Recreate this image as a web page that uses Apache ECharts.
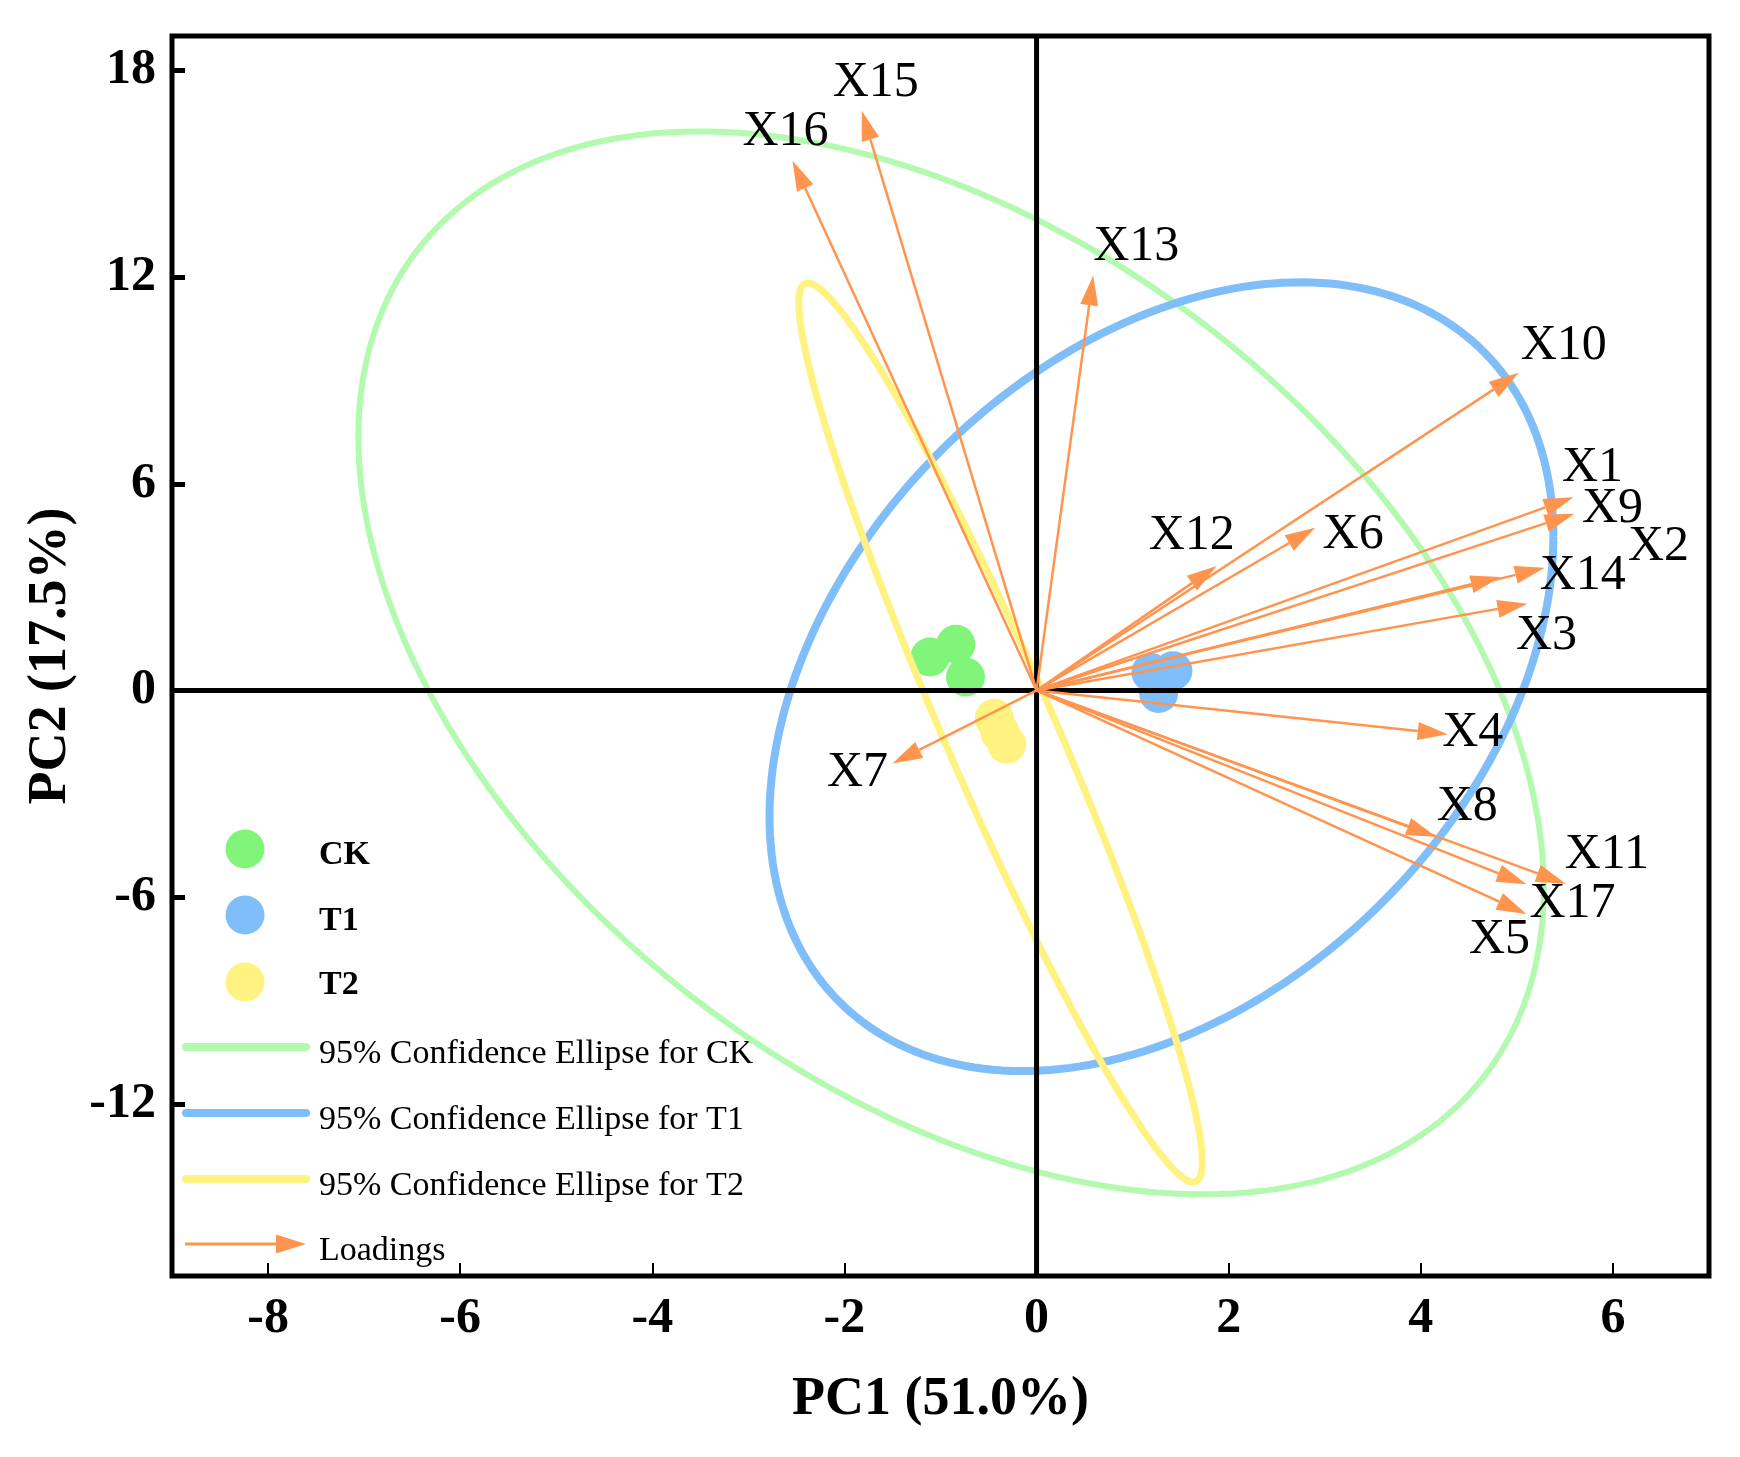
<!DOCTYPE html>
<html>
<head>
<meta charset="utf-8">
<title>PCA biplot</title>
<script src="https://cdn.jsdelivr.net/npm/echarts@6.0.0/dist/echarts.min.js"></script>
<style>
  html, body { margin: 0; padding: 0; background: #fff; }
  #chart { width: 1740px; height: 1457px; }
</style>
</head>
<body>
<div id="chart"></div>
<script>
// ticks
var pc1Ticks = [-8, -6, -4, -2, 0, 2, 4, 6];
var pc2Ticks = [-12, -6, 0, 6, 12, 18];

// sample scores [PC1, PC2]
var ckScores = [[-1.11, 0.97], [-0.84, 1.34], [-0.74, 0.39]];
var t1Scores = [[1.19, 0.52], [1.42, 0.57], [1.27, -0.09]];
var t2Scores = [[-0.44, -0.81], [-0.38, -1.22], [-0.31, -1.56]];

// 95% ellipses: [centre PC1, centre PC2, half width, half height, correlation]
var ckEllipse = [-0.89, 0.80, 6.17, 15.43, -0.425];
var t1Ellipse = [1.30, 0.40, 4.08, 11.45, 0.355];
var t2Ellipse = [-0.375, -1.22, 2.10, 13.05, -0.955];

// loadings (arrow tips)
var loadingNames = ['X1', 'X2', 'X3', 'X4', 'X5', 'X6', 'X7', 'X8', 'X9', 'X10',
                    'X11', 'X12', 'X13', 'X14', 'X15', 'X16', 'X17'];
var loadingPC1 = [5.59, 4.83, 5.11, 4.28, 5.10, 2.90, -1.50, 4.16, 5.60, 5.02,
                  5.51, 1.875, 0.59, 5.29, -1.82, -2.54, 5.10];
var loadingPC2 = [5.61, 3.29, 2.52, -1.27, -6.49, 4.72, -2.12, -4.25, 5.13, 9.22,
                  -5.61, 3.61, 12.05, 3.56, 16.83, 15.38, -5.63];

// where each loading label sits relative to its arrow tip (px)
var labelShift = {
    X1: [19, -29], X2: [158, -30], X3: [19, 32], X4: [25, -1], X5: [-27, 26],
    X6: [38, 7], X7: [-35, 9], X8: [31, -30], X9: [38, -5], X10: [45, -27],
    X11: [41, -29], X12: [-25, -30], X13: [43, -29], X14: [38, 8],
    X15: [14, -28], X16: [-7, -29], X17: [46, 20]
};

var GREEN = '#80F57A', GREEN_LINE = '#B3FAB0';
var BLUE = '#80BEFA';
var YELLOW = '#FFF280';
var ORANGE = '#FF944F';
var SERIF = '"Liberation Serif", "Times New Roman", serif';

var chart = echarts.init(document.getElementById('chart'));

function ellipseSeries(name, params, color, width, z) {
    return {
        name: name,
        type: 'custom',
        z: z,
        silent: true,
        data: [params],
        renderItem: function (p, api) {
            var cx = api.value(0), cy = api.value(1), rx = api.value(2), ry = api.value(3), r = api.value(4);
            var s = Math.sqrt(1 - r * r);
            var pts = [];
            for (var i = 0; i <= 240; i++) {
                var t = i / 240 * Math.PI * 2;
                pts.push(api.coord([cx + rx * Math.cos(t), cy + ry * (r * Math.cos(t) + s * Math.sin(t))]));
            }
            return {
                type: 'polyline',
                shape: { points: pts },
                style: { stroke: color, lineWidth: width, fill: null }
            };
        }
    };
}

var loadingData = loadingNames.map(function (n, i) {
    return [loadingPC1[i], loadingPC2[i], n];
});

chart.setOption({
    animation: false,
    backgroundColor: '#fff',
    grid: {
        left: 172, right: 31, top: 36, bottom: 181,
        show: true, borderColor: '#000', borderWidth: 5, backgroundColor: 'transparent'
    },
    xAxis: {
        type: 'value', min: -9, max: 7,
        name: 'PC1 (51.0%)', nameLocation: 'middle', nameGap: 97,
        nameTextStyle: { fontFamily: SERIF, fontWeight: 'bold', fontSize: 54, color: '#000' },
        axisLine: { show: false, onZero: false },
        splitLine: { show: false },
        axisTick: { inside: true, length: 13, customValues: pc1Ticks, lineStyle: { color: '#000', width: 2 } },
        axisLabel: {
            customValues: pc1Ticks, margin: 18,
            fontFamily: SERIF, fontWeight: 'bold', fontSize: 50, color: '#000'
        }
    },
    yAxis: {
        type: 'value', min: -17, max: 19,
        name: 'PC2 (17.5%)', nameLocation: 'middle', nameGap: 92,
        nameTextStyle: { fontFamily: SERIF, fontWeight: 'bold', fontSize: 54, color: '#000' },
        axisLine: { show: false, onZero: false },
        splitLine: { show: false },
        axisTick: { inside: true, length: 13, customValues: pc2Ticks, lineStyle: { color: '#000', width: 5 } },
        axisLabel: {
            customValues: pc2Ticks, margin: 16,
            fontFamily: SERIF, fontWeight: 'bold', fontSize: 50, color: '#000'
        }
    },
    series: [
        { name: 'CK', type: 'scatter', z: 1, symbolSize: 39, data: ckScores, itemStyle: { color: GREEN, opacity: 1 } },
        { name: 'T1', type: 'scatter', z: 1, symbolSize: 39, data: t1Scores, itemStyle: { color: BLUE, opacity: 1 } },
        { name: 'T2', type: 'scatter', z: 1, symbolSize: 39, data: t2Scores, itemStyle: { color: YELLOW, opacity: 1 } },
        ellipseSeries('95% Confidence Ellipse for CK', ckEllipse, GREEN_LINE, 6, 2),
        ellipseSeries('95% Confidence Ellipse for T1', t1Ellipse, BLUE, 8, 2),
        ellipseSeries('95% Confidence Ellipse for T2', t2Ellipse, YELLOW, 7, 2),
        {
            // zero lines
            type: 'custom', z: 3, silent: true,
            data: [[0, 0]],
            renderItem: function (p, api) {
                var o = api.coord([0, 0]);
                var cs = p.coordSys;
                return {
                    type: 'group',
                    children: [
                        { type: 'line', shape: { x1: cs.x, y1: o[1], x2: cs.x + cs.width, y2: o[1] }, style: { stroke: '#000', lineWidth: 5 } },
                        { type: 'line', shape: { x1: o[0], y1: cs.y, x2: o[0], y2: cs.y + cs.height }, style: { stroke: '#000', lineWidth: 5 } }
                    ]
                };
            }
        },
        {
            name: 'Loadings', type: 'custom', z: 4, silent: true,
            data: loadingData,
            renderItem: function (p, api) {
                var o = api.coord([0, 0]);
                var tip = api.coord([api.value(0), api.value(1)]);
                var name = loadingNames[p.dataIndex];
                var dx = tip[0] - o[0], dy = tip[1] - o[1];
                var len = Math.sqrt(dx * dx + dy * dy);
                var ux = dx / len, uy = dy / len;
                var headLen = 30, headHalf = 9;
                var bx = tip[0] - ux * headLen, by = tip[1] - uy * headLen;
                var sh = labelShift[name] || [0, 0];
                return {
                    type: 'group',
                    children: [
                        { type: 'line', shape: { x1: o[0], y1: o[1], x2: bx, y2: by }, style: { stroke: ORANGE, lineWidth: 2.5 } },
                        {
                            type: 'polygon',
                            shape: { points: [tip, [bx - uy * headHalf, by + ux * headHalf], [bx + uy * headHalf, by - ux * headHalf]] },
                            style: { fill: ORANGE }
                        },
                        {
                            type: 'text',
                            style: {
                                text: name, x: tip[0] + sh[0], y: tip[1] + sh[1],
                                fill: '#000', font: '50px ' + SERIF, align: 'center', verticalAlign: 'middle'
                            }
                        }
                    ]
                };
            }
        }
    ],
    graphic: [
        { type: 'circle', shape: { cx: 245, cy: 849, r: 19.5 }, style: { fill: GREEN } },
        { type: 'circle', shape: { cx: 245, cy: 915, r: 19.5 }, style: { fill: BLUE } },
        { type: 'circle', shape: { cx: 245, cy: 982, r: 19.5 }, style: { fill: YELLOW } },
        { type: 'text', x: 319, y: 855, style: { text: 'CK', font: 'bold 34px ' + SERIF, fill: '#000', verticalAlign: 'middle' } },
        { type: 'text', x: 319, y: 921, style: { text: 'T1', font: 'bold 34px ' + SERIF, fill: '#000', verticalAlign: 'middle' } },
        { type: 'text', x: 319, y: 985, style: { text: 'T2', font: 'bold 34px ' + SERIF, fill: '#000', verticalAlign: 'middle' } },
        { type: 'line', shape: { x1: 186, y1: 1047, x2: 306, y2: 1047 }, style: { stroke: GREEN_LINE, lineWidth: 8, lineCap: 'round' } },
        { type: 'line', shape: { x1: 186, y1: 1113, x2: 306, y2: 1113 }, style: { stroke: BLUE, lineWidth: 8, lineCap: 'round' } },
        { type: 'line', shape: { x1: 186, y1: 1179, x2: 306, y2: 1179 }, style: { stroke: YELLOW, lineWidth: 8, lineCap: 'round' } },
        { type: 'text', x: 319, y: 1054, style: { text: '95% Confidence Ellipse for CK', font: '34px ' + SERIF, fill: '#000', verticalAlign: 'middle' } },
        { type: 'text', x: 319, y: 1120, style: { text: '95% Confidence Ellipse for T1', font: '34px ' + SERIF, fill: '#000', verticalAlign: 'middle' } },
        { type: 'text', x: 319, y: 1186, style: { text: '95% Confidence Ellipse for T2', font: '34px ' + SERIF, fill: '#000', verticalAlign: 'middle' } },
        { type: 'line', shape: { x1: 185, y1: 1244, x2: 278, y2: 1244 }, style: { stroke: ORANGE, lineWidth: 3 } },
        { type: 'polygon', shape: { points: [[306, 1244], [276, 1234.5], [276, 1253.5]] }, style: { fill: ORANGE } },
        { type: 'text', x: 319, y: 1251, style: { text: 'Loadings', font: '34px ' + SERIF, fill: '#000', verticalAlign: 'middle' } }
    ]
});
</script>
</body>
</html>
